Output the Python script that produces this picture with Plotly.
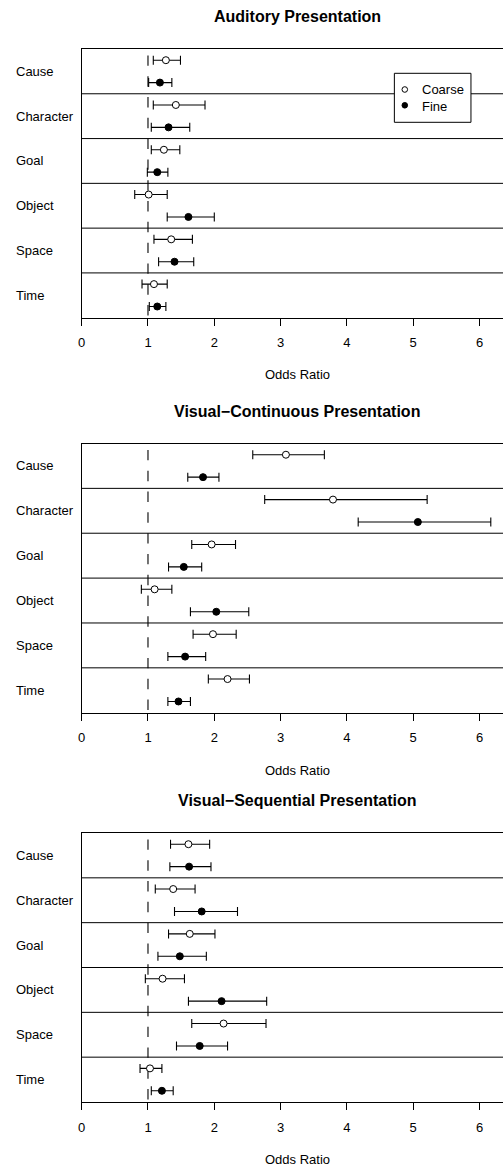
import plotly.graph_objects as go

W, H = 503, 1167

categories = ["Cause", "Character", "Goal", "Object", "Space", "Time"]
panel_titles = ["Auditory Presentation",
                "Visual\u2212Continuous Presentation",
                "Visual\u2212Sequential Presentation"]

# Auditory
aud_coarse = [1.27, 1.42, 1.24, 1.01, 1.35, 1.09]
aud_coarse_lo = [1.08, 1.08, 1.05, 0.80, 1.09, 0.91]
aud_coarse_hi = [1.49, 1.86, 1.48, 1.29, 1.67, 1.29]
aud_fine = [1.18, 1.31, 1.14, 1.61, 1.40, 1.14]
aud_fine_lo = [1.01, 1.05, 0.99, 1.29, 1.16, 1.02]
aud_fine_hi = [1.36, 1.63, 1.30, 2.00, 1.69, 1.27]

# Visual-Continuous
vc_coarse = [3.08, 3.79, 1.96, 1.10, 1.98, 2.20]
vc_coarse_lo = [2.58, 2.76, 1.66, 0.90, 1.68, 1.91]
vc_coarse_hi = [3.66, 5.21, 2.32, 1.36, 2.33, 2.53]
vc_fine = [1.83, 5.07, 1.54, 2.03, 1.56, 1.46]
vc_fine_lo = [1.60, 4.17, 1.31, 1.64, 1.30, 1.30]
vc_fine_hi = [2.07, 6.17, 1.81, 2.52, 1.87, 1.64]

# Visual-Sequential
vs_coarse = [1.61, 1.38, 1.63, 1.22, 2.14, 1.03]
vs_coarse_lo = [1.34, 1.11, 1.31, 0.96, 1.66, 0.88]
vs_coarse_hi = [1.93, 1.71, 2.01, 1.55, 2.78, 1.21]
vs_fine = [1.62, 1.81, 1.48, 2.11, 1.78, 1.21]
vs_fine_lo = [1.33, 1.40, 1.15, 1.61, 1.43, 1.05]
vs_fine_hi = [1.95, 2.35, 1.88, 2.79, 2.20, 1.38]

x_ticks = [0, 1, 2, 3, 4, 5, 6]
x_max = 6.354
ref_line = 1

panels = [
    (aud_coarse, aud_coarse_lo, aud_coarse_hi, aud_fine, aud_fine_lo, aud_fine_hi),
    (vc_coarse, vc_coarse_lo, vc_coarse_hi, vc_fine, vc_fine_lo, vc_fine_hi),
    (vs_coarse, vs_coarse_lo, vs_coarse_hi, vs_fine, vs_fine_lo, vs_fine_hi),
]

# layout in pixels
plot_left = 78.3
panel_top_px = [49.0, 443.5, 833.0]
panel_bot_px = [317.7, 712.7, 1102.0]
title_px = [16.7, 411.0, 800.7]
xtitle_px = [374.3, 770.0, 1159.0]
center_x_px = 295.5

FONT = "Liberation Sans, Arial, Helvetica, sans-serif"

def py(p):
    return 1 - p / H

def px(p):
    return p / W

fig = go.Figure()
shapes = []
annotations = []
layout = {}

def ann(**kw):
    kw.setdefault("showarrow", False)
    kw.setdefault("borderpad", 0)
    kw.setdefault("borderwidth", 0)
    annotations.append(kw)

for k, (c, clo, chi, f, flo, fhi) in enumerate(panels):
    sfx = "" if k == 0 else str(k + 1)
    xa, ya = "x" + sfx, "y" + sfx
    n = len(categories)
    yc = [i + 0.25 for i in range(n)]
    yf = [i + 0.75 for i in range(n)]
    fig.add_trace(go.Scatter(
        x=c, y=yc, xaxis=xa, yaxis=ya, mode="markers",
        marker=dict(symbol="circle", size=7, color="white",
                    line=dict(color="black", width=1)),
        error_x=dict(type="data", symmetric=False,
                     array=[h - v for h, v in zip(chi, c)],
                     arrayminus=[v - l for v, l in zip(c, clo)],
                     color="black", thickness=1.1, width=4.5),
        showlegend=False, hoverinfo="skip"))
    fig.add_trace(go.Scatter(
        x=f, y=yf, xaxis=xa, yaxis=ya, mode="markers",
        marker=dict(symbol="circle", size=7, color="black",
                    line=dict(color="black", width=1)),
        error_x=dict(type="data", symmetric=False,
                     array=[h - v for h, v in zip(fhi, f)],
                     arrayminus=[v - l for v, l in zip(f, flo)],
                     color="black", thickness=1.1, width=4.5),
        showlegend=False, hoverinfo="skip"))

    layout["xaxis" + sfx] = dict(
        domain=[px(plot_left), 1.0], range=[0, x_max], anchor=ya,
        tickvals=x_ticks, ticks="outside", ticklen=7, tickwidth=1,
        tickcolor="black", showline=True, linecolor="black", linewidth=1,
        mirror=True, showgrid=False, zeroline=False, ticklabelstandoff=6,
        tickfont=dict(family=FONT, size=13, color="black"))
    layout["yaxis" + sfx] = dict(
        domain=[py(panel_bot_px[k]), py(panel_top_px[k])], range=[n, 0],
        anchor=xa, showticklabels=False, ticks="", showline=True,
        linecolor="black", linewidth=1, showgrid=False, zeroline=False)

    # dashed reference line (clipped to plot area)
    shapes.append(dict(type="line", xref=xa, yref=ya, x0=ref_line, x1=ref_line,
                       y0=-0.32, y1=n + 0.5, layer="below",
                       line=dict(color="black", width=1.1, dash="10.4px,10.4px")))
    # separators between categories
    for i in range(1, n):
        shapes.append(dict(type="line", xref=xa + " domain", yref=ya,
                           x0=0, x1=1, y0=i, y1=i, layer="above",
                           line=dict(color="black", width=1)))
    # category labels
    for i, cat in enumerate(categories):
        ann(text=cat, xref="paper", yref=ya, x=px(12.3), y=i + 0.5,
            xanchor="left", yanchor="middle",
            font=dict(family=FONT, size=13, color="black"))
    ann(text="<b>" + panel_titles[k] + "</b>", xref="paper", yref="paper",
        x=px(center_x_px), y=py(title_px[k]), xanchor="center",
        yanchor="middle", font=dict(family=FONT, size=16, color="black"))
    ann(text="Odds Ratio", xref="paper", yref="paper", x=px(center_x_px),
        y=py(xtitle_px[k]), xanchor="center", yanchor="middle",
        font=dict(family=FONT, size=13, color="black"))

# legend box (top panel)
shapes.append(dict(type="rect", xref="paper", yref="paper",
                   x0=px(393.5), x1=px(470.7), y0=py(122.3), y1=py(73.3),
                   fillcolor="white", line=dict(color="black", width=1),
                   layer="above"))
r = 2.8
for cy, fill in [(89.5, "white"), (105.3, "black")]:
    shapes.append(dict(type="circle", xref="paper", yref="paper",
                       x0=px(404 - r), x1=px(404 + r), y0=py(cy + r), y1=py(cy - r),
                       fillcolor=fill, line=dict(color="black", width=1),
                       layer="above"))
for cy, txt in [(90.0, "Coarse"), (106.0, "Fine")]:
    ann(text=txt, xref="paper", yref="paper", x=px(421.5), y=py(cy),
        xanchor="left", yanchor="middle",
        font=dict(family=FONT, size=13, color="black"))

fig.update_layout(
    width=W, height=H, autosize=False,
    margin=dict(l=0, r=0, t=0, b=0, pad=0),
    paper_bgcolor="white", plot_bgcolor="white",
    shapes=shapes, annotations=annotations, showlegend=False,
    **layout)

fig.write_html("out.html")
